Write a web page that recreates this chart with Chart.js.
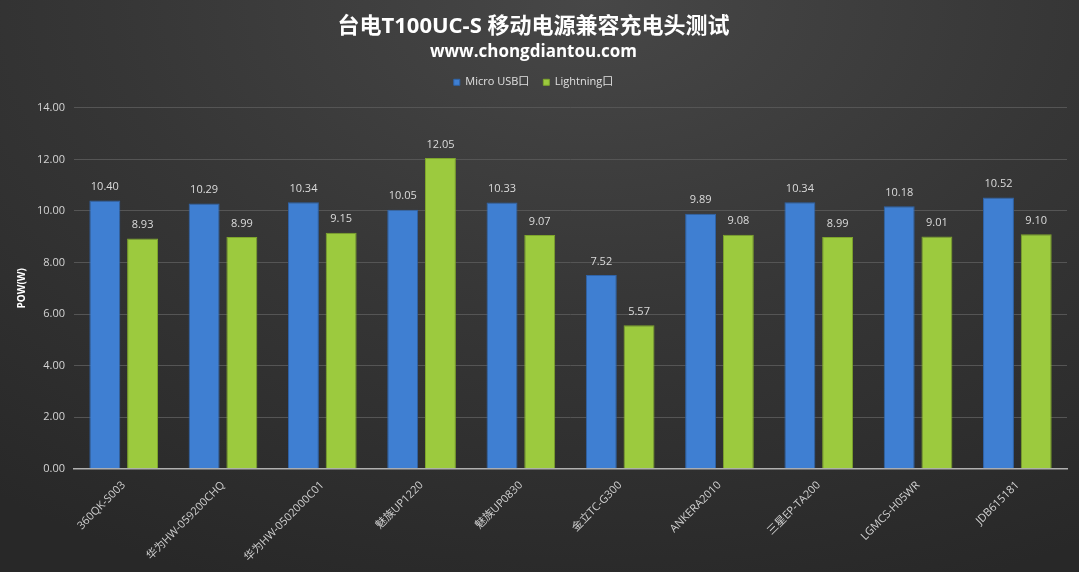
<!DOCTYPE html>
<html>
<head>
<meta charset="utf-8">
<script src="https://cdn.jsdelivr.net/npm/chart.js@4"></script>
<style>
  html, body { margin: 0; padding: 0; }
  body {
    width: 1079px; height: 572px; overflow: hidden;
    background: radial-gradient(ellipse 90% 110% at 55% 0%, #474747 0%, #363636 50%, #282828 100%);
  }
  #wrap { position: relative; width: 1079px; height: 572px; }
</style>
</head>
<body>
<div id="wrap"><canvas id="chart"></canvas></div>
<script>
// 数据
const chargers = ["360QK-S003", "华为HW-059200CHQ", "华为HW-0502000C01", "魅族UP1220", "魅族UP0830",
                  "金立TC-G300", "ANKERA2010", "三星EP-TA200", "LGMCS-H05WR", "JDB615181"];
const microUsb = [10.40, 10.29, 10.34, 10.05, 10.33, 7.52, 9.89, 10.34, 10.18, 10.52];
const lightning = [8.93, 8.99, 9.15, 12.05, 9.07, 5.57, 9.08, 8.99, 9.01, 9.10];

const fontFam = "'Open Sans', 'Noto Sans CJK SC', sans-serif";

// 柱子上方的数值
const valueLabels = {
    id: "valueLabels",
    afterDatasetsDraw(chart) {
        const ctx = chart.ctx;
        ctx.save();
        ctx.font = "11px " + fontFam;
        ctx.fillStyle = "#dcdcdc";
        ctx.textAlign = "center";
        ctx.textBaseline = "bottom";
        chart.data.datasets.forEach((ds, i) => {
            chart.getDatasetMeta(i).data.forEach((bar, j) => {
                ctx.fillText(ds.data[j].toFixed(2), bar.x, bar.y - 8);
            });
        });
        ctx.restore();
    }
};

// 图例下面多留点空
const legendGap = {
    id: "legendGap",
    beforeInit(chart) {
        const fit = chart.legend.fit;
        chart.legend.fit = function () {
            fit.bind(chart.legend)();
            this.height += 10;
        };
    }
};

new Chart(document.getElementById("chart"), {
    type: "bar",
    data: {
        labels: chargers,
        datasets: [
            {
                label: "Micro USB口",
                data: microUsb,
                backgroundColor: "#3f7fd2",
                borderColor: "#2f63a8",
                borderWidth: 1
            },
            {
                label: "Lightning口",
                data: lightning,
                backgroundColor: "#9cca3e",
                borderColor: "#7ea52c",
                borderWidth: 1
            }
        ]
    },
    options: {
        responsive: true,
        maintainAspectRatio: false,
        animation: false,
        categoryPercentage: 0.76,
        barPercentage: 0.82,
        layout: { padding: { left: 0, right: 12, top: 8, bottom: 6 } },
        plugins: {
            title: {
                display: true,
                text: "台电T100UC-S 移动电源兼容充电头测试",
                color: "#ffffff",
                font: { size: 22, weight: "bold", family: fontFam },
                padding: { top: 6, bottom: 2 }
            },
            subtitle: {
                display: true,
                text: "www.chongdiantou.com",
                color: "#ffffff",
                font: { size: 17, weight: "bold", family: fontFam },
                padding: { top: 0, bottom: 0 }
            },
            legend: {
                position: "top",
                labels: {
                    color: "#e0e0e0",
                    font: { size: 11, family: fontFam },
                    boxWidth: 6,
                    boxHeight: 6,
                    padding: 14
                }
            },
            tooltip: { enabled: false }
        },
        scales: {
            x: {
                grid: { display: false },
                border: { color: "#b0b0b0", width: 1.5 },
                ticks: {
                    color: "#cfcfcf",
                    font: { size: 11, family: fontFam },
                    maxRotation: 45,
                    minRotation: 45,
                    padding: 2
                }
            },
            y: {
                min: 0,
                max: 14,
                ticks: {
                    stepSize: 2,
                    color: "#d4d4d4",
                    font: { size: 11, family: fontFam },
                    padding: 9,
                    callback: v => v.toFixed(2)
                },
                grid: { color: "#555555", drawTicks: false },
                border: { display: false },
                title: {
                    display: true,
                    text: "POW(W)",
                    color: "#ffffff",
                    font: { size: 10, weight: "bold", family: fontFam },
                    padding: { top: 16, bottom: 0 }
                }
            }
        }
    },
    plugins: [valueLabels, legendGap]
});
</script>
</body>
</html>
